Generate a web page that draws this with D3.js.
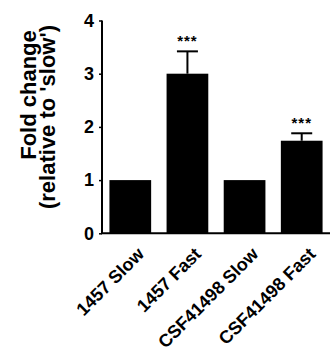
<!DOCTYPE html>
<html>
<head>
<meta charset="utf-8">
<script src="https://cdn.jsdelivr.net/npm/d3@7"></script>
<style>
  body { margin: 0; background: #fff; }
  text { font-family: "Liberation Sans", Arial, sans-serif; font-weight: bold; fill: #000; }
</style>
</head>
<body>
<div id="chart"></div>
<script>
const categories = ["1457 Slow", "1457 Fast", "CSF41498 Slow", "CSF41498 Fast"];
const means = [1, 3.0, 1, 1.74];
const sems = [0, 0.42, 0, 0.14];
const stars = ["", "***", "", "***"];
const yTicks = [0, 1, 2, 3, 4];

const width = 330, height = 352;

const svg = d3.select("#chart").append("svg")
    .attr("width", width)
    .attr("height", height);

const x = d3.scaleBand()
    .domain(categories)
    .range([102, 330])
    .paddingInner(0.27)
    .paddingOuter(0.13);

const y = d3.scaleLinear()
    .domain([0, 4])
    .range([233.3, 20.5]);

// bars
svg.selectAll("rect.bar")
    .data(categories)
    .enter()
    .append("rect")
    .attr("class", "bar")
    .attr("x", d => x(d))
    .attr("width", x.bandwidth())
    .attr("y", (d, i) => y(means[i]))
    .attr("height", (d, i) => y(0) - y(means[i]))
    .attr("fill", "#000");

// error bars (upper only)
const errs = categories.map((c, i) => ({ c, m: means[i], s: sems[i], star: stars[i] }))
    .filter(d => d.s > 0);

svg.selectAll("line.err")
    .data(errs)
    .enter()
    .append("line")
    .attr("x1", d => x(d.c) + x.bandwidth() / 2)
    .attr("x2", d => x(d.c) + x.bandwidth() / 2)
    .attr("y1", d => y(d.m))
    .attr("y2", d => y(d.m + d.s))
    .attr("stroke", "#000")
    .attr("stroke-width", 2);

svg.selectAll("line.cap")
    .data(errs)
    .enter()
    .append("line")
    .attr("x1", d => x(d.c) + x.bandwidth() / 2 - 10.5)
    .attr("x2", d => x(d.c) + x.bandwidth() / 2 + 10.5)
    .attr("y1", d => y(d.m + d.s))
    .attr("y2", d => y(d.m + d.s))
    .attr("stroke", "#000")
    .attr("stroke-width", 2);

svg.selectAll("text.star")
    .data(errs)
    .enter()
    .append("text")
    .attr("x", d => x(d.c) + x.bandwidth() / 2)
    .attr("y", d => y(d.m + d.s) - 5)
    .attr("text-anchor", "middle")
    .style("font-size", "15px")
    .style("letter-spacing", "1px")
    .text(d => d.star);

// y axis
const yAxis = svg.append("g")
    .attr("transform", "translate(102,0)")
    .call(d3.axisLeft(y).tickValues(yTicks).tickSize(3).tickPadding(5).tickFormat(d3.format("d")));
yAxis.select(".domain").attr("stroke-width", 2).attr("d", `M0,${y(4)}V${y(0)}`);
yAxis.selectAll(".tick line").attr("stroke-width", 1.5);
yAxis.selectAll(".tick text")
    .attr("fill", "#000")
    .style("font-size", "18px")
    .style("font-family", "'Liberation Sans', Arial, sans-serif")
    .style("font-weight", "bold");

// x axis line
svg.append("line")
    .attr("x1", 101).attr("x2", 330)
    .attr("y1", y(0)).attr("y2", y(0))
    .attr("stroke", "#000")
    .attr("stroke-width", 2);

// x labels, rotated 45deg
svg.selectAll("text.xlab")
    .data(categories)
    .enter()
    .append("text")
    .attr("class", "xlab")
    .attr("transform", d => `translate(${x(d) + x.bandwidth() / 2 + 6},${y(0) + 13}) rotate(-45)`)
    .attr("text-anchor", "end")
    .attr("dy", "0.7em")
    .style("font-size", "18px")
    .text(d => d);

// y title
svg.append("text")
    .attr("transform", `translate(36,95) rotate(-90)`)
    .attr("text-anchor", "middle")
    .style("font-size", "22px")
    .text("Fold change");

svg.append("text")
    .attr("transform", `translate(55,117) rotate(-90)`)
    .attr("text-anchor", "middle")
    .style("font-size", "22px")
    .text("(relative to 'slow')");
</script>
</body>
</html>
